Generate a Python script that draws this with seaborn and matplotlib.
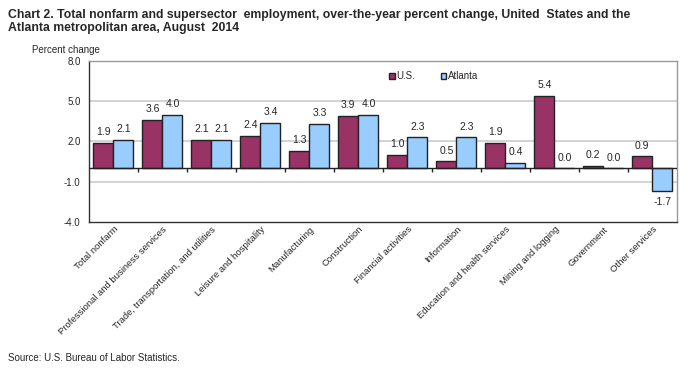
import numpy as np
import pandas as pd
import matplotlib.pyplot as plt
import seaborn as sns

# Chart data
categories = ['Total nonfarm', 'Professional and business services',
              'Trade, transportation, and utilities', 'Leisure and hospitality',
              'Manufacturing', 'Construction', 'Financial activities', 'Information',
              'Education and health services', 'Mining and logging', 'Government',
              'Other services']
us_values = [1.9, 3.6, 2.1, 2.4, 1.3, 3.9, 1.0, 0.5, 1.9, 5.4, 0.2, 0.9]
atlanta_values = [2.1, 4.0, 2.1, 3.4, 3.3, 4.0, 2.3, 2.3, 0.4, 0.0, 0.0, -1.7]
series = ['U.S.', 'Atlanta']
y_ticks = [-4.0, -1.0, 2.0, 5.0, 8.0]

df = pd.DataFrame({
    'category': categories * 2,
    'area': [series[0]] * len(categories) + [series[1]] * len(categories),
    'value': us_values + atlanta_values,
})

sns.set_style('white')
plt.rcParams['font.family'] = ['Liberation Sans', 'DejaVu Sans']

fig = plt.figure(figsize=(7, 3.71), dpi=100)
ax = fig.add_axes([0.127, 0.402, 0.84, 0.434])

palette = {'U.S.': '#993366', 'Atlanta': '#99CCFF'}
sns.barplot(data=df, x='category', y='value', hue='area', palette=palette,
            width=0.82, edgecolor='#222222', linewidth=1.0, saturation=1,
            ax=ax, zorder=3)

ax.set_ylim(-4, 8)
ax.set_xlim(-0.5, len(categories) - 0.5)
ax.set_yticks(y_ticks)
ax.set_yticklabels([f'{v:.1f}' for v in y_ticks], fontsize=7)
ax.tick_params(axis='y', length=0, pad=6)
ax.tick_params(axis='x', length=0, pad=2)
ax.set_xticks(range(len(categories)))
ax.set_xticklabels(categories, rotation=45, ha='right', rotation_mode='anchor',
                   fontsize=6.8)
ax.set_xlabel('')
ax.set_ylabel('')

# gridlines
for y in y_ticks:
    if y not in (-4.0, 8.0):
        ax.axhline(y, color='#cccccc', linewidth=1.2, zorder=1)
ax.axhline(0, color='#222222', linewidth=1.0, zorder=4)
# tick marks at category boundaries along the zero line
ax.vlines(np.arange(0.5, len(categories) - 0.5), -0.25, 0, color='#222222',
          linewidth=1.0, zorder=4)

for side in ['left', 'bottom']:
    ax.spines[side].set_color('#333333')
    ax.spines[side].set_linewidth(1.0)
for side in ['top', 'right']:
    ax.spines[side].set_color('#999999')
    ax.spines[side].set_linewidth(1.0)

# value labels
for container in ax.containers:
    labels = [f'{b.get_height():.1f}' for b in container]
    ax.bar_label(container, labels=labels, padding=4, fontsize=7.5)

ax.legend(handles=[plt.Rectangle((0, 0), 1, 1, fc=palette[s], ec='#222222') for s in series],
          labels=series, loc='upper left', bbox_to_anchor=(0.495, 0.99),
          ncol=2, frameon=False, fontsize=7, handlelength=0.6, handleheight=0.6,
          handletextpad=0.2, columnspacing=2.6)

fig.text(0.011, 0.975, 'Chart 2. Total nonfarm and supersector  employment, over-the-year percent change, United  States and the\nAtlanta metropolitan area, August  2014',
         fontsize=8.8, fontweight='bold', va='top', ha='left', linespacing=1.1)
fig.text(0.045, 0.865, 'Percent change', fontsize=7, va='center', ha='left')
fig.text(0.011, 0.035, 'Source: U.S. Bureau of Labor Statistics.', fontsize=7,
         va='center', ha='left')

plt.savefig('out.png', dpi=100)
plt.close()
